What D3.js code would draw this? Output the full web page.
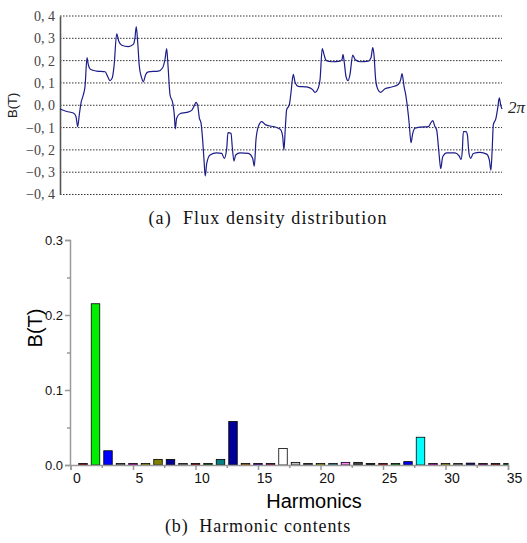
<!DOCTYPE html>
<html lang="en">
<head>
  <meta charset="UTF-8">
  <title>Flux density and harmonics</title>
  <script src="https://d3js.org/d3.v7.min.js"></script>
  <style>
    body { margin: 0; background: #fff; }
    svg { display: block; }
  </style>
</head>
<body>
  <script>
    // (a) flux density: angle in degrees (0..360 = 0..2π) and B in tesla
    const angle = [0, 5.5, 10.8, 13.0, 14.4, 15.7, 17.1, 19.0, 20.4, 22.0, 23.0, 25.0, 29.9, 36.7, 39.3, 40.7,
      42.6, 44.0, 46.2, 47.8, 50.3, 55.6, 59.7, 61.1, 62.1, 63.3, 64.6, 66.5, 67.8, 69.8, 71.9, 80.1,
      83.6, 85.5, 86.9, 88.0, 89.6, 91.8, 93.1, 93.9, 95.0, 97.7, 103.2, 107.3, 109.1, 110.8, 112.2,
      113.5, 114.8, 116.2, 117.3, 118.3, 119.5, 122.2, 127.6, 131.7, 133.8, 135.8, 136.8, 139.3, 140.3,
      141.7, 143.1, 146.6, 153.4, 156.9, 158.3, 159.6, 161.5, 164.3, 167.6, 176.5, 179.8, 181.4, 182.4,
      183.5, 184.6, 186.8, 188.1, 190.0, 191.6, 194.1, 200.9, 205.8, 207.7, 210.4, 211.8, 213.6, 215.0,
      216.7, 221.3, 228.1, 229.7, 230.5, 231.6, 232.9, 234.6, 236.2, 238.4, 240.3, 244.3, 251.1, 253.3,
      254.7, 255.7, 257.1, 258.4, 261.2, 264.7, 270.2, 275.5, 277.5, 278.6, 280.2, 281.8, 283.7, 284.5,
      285.9, 287.3, 289.1, 293.2, 300.0, 301.9, 303.6, 305.2, 306.8, 308.7, 310.1, 311.7, 315.0, 321.7,
      325.2, 326.6, 327.7, 328.5, 330.7, 331.8, 333.1, 334.5, 336.6, 342.1, 347.5, 349.7, 351.0, 352.1,
      352.9, 355.1, 356.5, 357.8, 358.9, 360];
    const flux = [-0.017, -0.028, -0.035, -0.05, -0.096, -0.043, 0.01, 0.047, 0.085, 0.213, 0.183, 0.16, 0.153, 0.15, 0.123, 0.11,
      0.123, 0.175, 0.32, 0.288, 0.269, 0.263, 0.273, 0.303, 0.353, 0.281, 0.175, 0.123, 0.105, 0.138, 0.15, 0.153,
      0.168, 0.205, 0.254, 0.175, 0.047, 0.01, -0.043, -0.106, -0.058, -0.038, -0.032, -0.023, -0.005, 0.013, -0.002,
      -0.058, -0.078, -0.156, -0.246, -0.317, -0.261, -0.223, -0.213, -0.216, -0.238, -0.193, -0.123, -0.126, -0.186,
      -0.25, -0.223, -0.213, -0.216, -0.238, -0.273, -0.156, -0.096, -0.073, -0.088, -0.1, -0.11, -0.141, -0.201,
      -0.103, -0.02, 0.002, 0.055, 0.138, 0.1, 0.085, 0.082, 0.07, 0.058, 0.078, 0.115, 0.254, 0.228,
      0.201, 0.195, 0.198, 0.205, 0.228, 0.19, 0.13, 0.11, 0.138, 0.225, 0.205, 0.195, 0.198, 0.213,
      0.258, 0.228, 0.115, 0.078, 0.058, 0.074, 0.082, 0.093, 0.115, 0.142, 0.085, 0.04, -0.043, -0.088,
      -0.168, -0.126, -0.103, -0.098, -0.096, -0.08, -0.069, -0.093, -0.111, -0.216, -0.284, -0.231, -0.213, -0.213,
      -0.228, -0.243, -0.201, -0.118, -0.118, -0.133, -0.216, -0.238, -0.216, -0.211, -0.219, -0.246, -0.291, -0.186,
      -0.088, -0.058, -0.013, 0.033, 0.002, -0.017];
    const fluxTicks = [-0.4, -0.3, -0.2, -0.1, 0, 0.1, 0.2, 0.3, 0.4];

    // (b) harmonic contents
    const harmonic = [1, 2, 3, 4, 5, 6, 7, 8, 9, 10, 11, 12, 13, 14, 15, 16, 17, 18,
      19, 20, 21, 22, 23, 24, 25, 26, 27, 28, 29, 30, 31, 32, 33, 34, 35];
    const amplitude = [0.002, 0.215, 0.019, 0.002, 0.002, 0.002, 0.0075, 0.0075, 0.002, 0.002, 0.002, 0.0075,
      0.058, 0.002, 0.002, 0.002, 0.022, 0.0035, 0.002, 0.002, 0.002, 0.0035, 0.0035, 0.002, 0.002,
      0.002, 0.0045, 0.037, 0.002, 0.002, 0.002, 0.0025, 0.002, 0.002, 0.002];
    const barColor = ["#a00000", "#00ee00", "#0000ff", "#808080", "#e000e0", "#c0c000", "#808000", "#000090",
      "#808080", "#a00000", "#006000", "#008080", "#000099", "#e07000", "#6000c0", "#c00060", "#ffffff",
      "#c0c0c0", "#505050", "#c0c000", "#40b0b0", "#ff80ff", "#404040", "#000000", "#c00000", "#00a000",
      "#0000ee", "#00ffff", "#e000e0", "#c0c000", "#808080", "#000080", "#800080", "#900000", "#006000"];
    const harmTicks = [0, 5, 10, 15, 20, 25, 30, 35];
    const ampTicks = [0, 0.1, 0.2, 0.3];

    const width = 527, height = 543;
    const svg = d3.select("body").append("svg")
      .attr("width", width)
      .attr("height", height);

    // ---------- (a) ----------
    const x1 = d3.scaleLinear().domain([0, 360]).range([60, 502]);
    const y1 = d3.scaleLinear().domain([-0.4, 0.4]).range([194.5, 16]);

    svg.append("g")
      .selectAll("line")
      .data(fluxTicks)
      .join("line")
      .attr("x1", 60)
      .attr("x2", 502)
      .attr("y1", d => y1(d))
      .attr("y2", d => y1(d))
      .attr("stroke", "#333")
      .attr("stroke-width", 1)
      .attr("stroke-dasharray", "1.5,1.5");

    const fmt = d => (d < 0 ? "\u2212" : "") + Math.abs(d).toFixed(1).replace(".", ", ");
    const ax1 = svg.append("g")
      .attr("transform", "translate(60,0)")
      .call(d3.axisLeft(y1).tickValues(fluxTicks).tickSize(0).tickPadding(5).tickFormat(fmt));
    ax1.attr("font-family", "'Liberation Serif', serif").attr("font-size", 14);
    ax1.select(".domain").attr("stroke", "#555").attr("stroke-width", 1.6);
    ax1.selectAll("text")
      .style("white-space", "pre")
      .attr("fill", "#444");

    svg.append("text")
      .attr("transform", `translate(17,${y1(0)}) rotate(-90)`)
      .attr("text-anchor", "middle")
      .attr("font-family", "'Liberation Sans', Arial, sans-serif")
      .attr("font-size", 13)
      .attr("fill", "#222")
      .text("B(T)");

    const line = d3.line()
      .x((d, i) => x1(angle[i]))
      .y(d => y1(d))
      .curve(d3.curveMonotoneX);
    svg.append("path")
      .datum(flux)
      .attr("d", line)
      .attr("fill", "none")
      .attr("stroke", "#1c1c8a")
      .attr("stroke-width", 1.2);

    svg.append("text")
      .attr("x", 508)
      .attr("y", 113)
      .attr("font-family", "'Liberation Serif', serif")
      .attr("font-style", "italic")
      .attr("font-size", 17)
      .attr("fill", "#222")
      .text("2\u03c0");

    svg.append("text")
      .attr("x", 268)
      .attr("y", 224)
      .attr("text-anchor", "middle")
      .attr("font-family", "'Liberation Serif', serif")
      .attr("font-size", 18)
      .attr("letter-spacing", 1.1)
      .attr("fill", "#111")
      .attr("xml:space", "preserve")
      .text("(a)  Flux density distribution");

    // ---------- (b) ----------
    const x2 = d3.scaleLinear().domain([0, 35]).range([70.5, 508]);
    const y2 = d3.scaleLinear().domain([0, 0.3]).range([465, 240]);
    const bw = 8.5;

    svg.append("clipPath").attr("id", "clipb")
      .append("rect").attr("x", 70).attr("y", 230).attr("width", 438.5).attr("height", 236);

    svg.append("g")
      .attr("clip-path", "url(#clipb)")
      .selectAll("rect")
      .data(amplitude)
      .join("rect")
      .attr("x", (d, i) => x2(harmonic[i]) - bw / 2)
      .attr("width", bw)
      .attr("y", d => y2(d))
      .attr("height", d => y2(0) - y2(d))
      .attr("fill", (d, i) => barColor[i])
      .attr("stroke", "#000")
      .attr("stroke-width", 0.8);

    const gray = "#9a9a9a";
    const ay = svg.append("g")
      .attr("transform", "translate(70,0)")
      .call(d3.axisLeft(y2).tickValues(ampTicks).tickSize(5).tickPadding(2).tickFormat(d3.format(".1f")));
    ay.append("g")
      .call(d3.axisLeft(y2).tickValues([0.05, 0.15, 0.25]).tickSize(3).tickFormat(""))
      .select(".domain").remove();
    ay.selectAll("path, line").attr("stroke", gray).attr("stroke-width", 1.5);
    ay.selectAll("text")
      .attr("font-family", "'Liberation Sans', Arial, sans-serif")
      .attr("font-size", 13)
      .attr("fill", "#111");

    const ax = svg.append("g")
      .attr("transform", "translate(0,465)")
      .call(d3.axisBottom(x2).tickValues(harmTicks).tickSize(5).tickPadding(3));
    ax.append("g")
      .call(d3.axisBottom(x2).tickValues([2.5, 7.5, 12.5, 17.5, 22.5, 27.5, 32.5]).tickSize(3).tickFormat(""))
      .select(".domain").remove();
    ax.selectAll("path, line").attr("stroke", gray).attr("stroke-width", 1.5);
    ax.selectAll("text")
      .attr("dx", 6)
      .attr("font-family", "'Liberation Sans', Arial, sans-serif")
      .attr("font-size", 14)
      .attr("fill", "#111");

    svg.append("text")
      .attr("x", 314)
      .attr("y", 508)
      .attr("text-anchor", "middle")
      .attr("font-family", "'Liberation Sans', Arial, sans-serif")
      .attr("font-size", 20)
      .attr("fill", "#000")
      .text("Harmonics");

    svg.append("text")
      .attr("transform", "translate(42,328) rotate(-90)")
      .attr("text-anchor", "middle")
      .attr("font-family", "'Liberation Sans', Arial, sans-serif")
      .attr("font-size", 20)
      .attr("fill", "#000")
      .text("B(T)");

    svg.append("text")
      .attr("x", 258)
      .attr("y", 532)
      .attr("text-anchor", "middle")
      .attr("font-family", "'Liberation Serif', serif")
      .attr("font-size", 18)
      .attr("letter-spacing", 0.9)
      .attr("fill", "#111")
      .attr("xml:space", "preserve")
      .text("(b)  Harmonic contents");
  </script>
</body>
</html>
